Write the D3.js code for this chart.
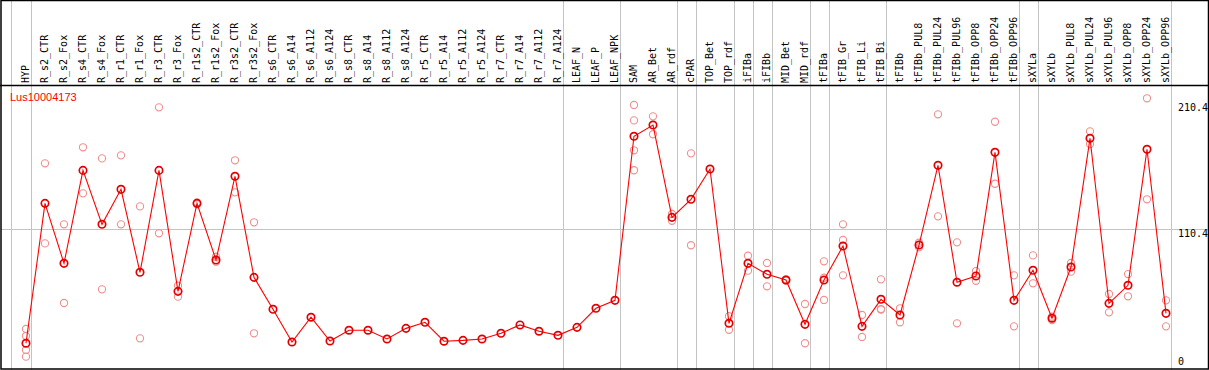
<!DOCTYPE html>
<html>
  <head>
    <meta charset="utf-8">
    <script src="https://cdn.jsdelivr.net/npm/d3@7/dist/d3.min.js"></script>
    <style>
      body { margin: 0; background: white; }
      svg { display: block; }
    </style>
  </head>
  <body>
    <script>
      const title = 'Lus10004173'

      const categories = [
        'HYP', 'R_s2_CTR', 'R_s2_Fox', 'R_s4_CTR', 'R_s4_Fox', 'R_r1_CTR', 'R_r1_Fox',
        'R_r3_CTR', 'R_r3_Fox', 'R_r1s2_CTR', 'R_r1s2_Fox', 'R_r3s2_CTR', 'R_r3s2_Fox',
        'R_s6_CTR', 'R_s6_A14', 'R_s6_A112', 'R_s6_A124', 'R_s8_CTR', 'R_s8_A14', 'R_s8_A112',
        'R_s8_A124', 'R_r5_CTR', 'R_r5_A14', 'R_r5_A112', 'R_r5_A124', 'R_r7_CTR', 'R_r7_A14',
        'R_r7_A112', 'R_r7_A124', 'LEAF_N', 'LEAF_P', 'LEAF_NPK', 'SAM', 'AR_Bet', 'AR_rdf',
        'cPAR', 'TOP_Bet', 'TOP_rdf', 'iFIBa', 'iFIBb', 'MID_Bet', 'MID_rdf', 'tFIBa',
        'tFIB_Gr', 'tFIB_Li', 'tFIB_Bi', 'tFIBb', 'tFIBb_PUL8', 'tFIBb_PUL24', 'tFIBb_PUL96',
        'tFIBb_OPP8', 'tFIBb_OPP24', 'tFIBb_OPP96', 'sXYLa', 'sXYLb', 'sXYLb_PUL8',
        'sXYLb_PUL24', 'sXYLb_PUL96', 'sXYLb_OPP8', 'sXYLb_OPP24', 'sXYLb_OPP96'
      ]

      // mean expression per sample
      const means = [
        19.9, 130.7, 83.2, 156.8, 114.1, 141.8, 76.1,
        156.8, 61.0, 130.7, 85.8, 152.1, 72.1,
        46.8, 20.9, 40.5, 21.7, 30.2, 30.2, 23.3,
        31.7, 36.5, 21.5, 22.2, 23.3, 27.8, 34.4,
        29.4, 26.2, 32.5, 47.6, 53.9, 183.8, 192.7, 119.6,
        133.9, 157.9, 35.7, 83.2, 74.5, 70.0, 34.9, 70.0,
        96.9, 33.3, 54.7, 42.3, 97.7, 160.8, 68.2,
        73.2, 171.1, 53.9, 77.7, 39.7, 80.3,
        182.2, 51.5, 65.8, 173.5, 43.6
      ]

      // individual replicates per sample (empty = none shown)
      const replicates = [
        [31.2, 25.7, 14.6, 9.3], [162.4, 99.0], [114.1, 51.8], [175.1, 138.6], [166.3, 62.6],
        [168.7, 114.1], [128.3, 23.8], [206.7, 107.0], [65.5, 56.8], [131.5, 129.9],
        [88.4, 84.5], [164.8, 139.4], [115.7, 27.8],
        [], [], [], [], [], [], [], [], [], [], [], [], [], [], [], [], [], [], [],
        [208.6, 196.4, 172.7, 156.9], [199.6, 185.4], [122.3, 116.9], [170.3, 97.5], [],
        [41.3, 30.6], [89.2, 77.4], [83.5, 65.0], [70.5, 69.5], [51.0, 19.9],
        [84.8, 71.8, 54.2], [114.1, 101.7, 73.7], [42.3, 24.9], [70.5, 47.0, 46.6],
        [47.6, 36.5], [99.5, 95.9], [201.2, 120.4], [99.8, 35.7], [77.1, 69.4],
        [195.3, 146.2], [73.7, 33.3], [89.5, 67.4], [40.9, 38.3], [83.5, 76.6],
        [187.7, 177.7], [58.9, 44.4], [74.7, 57.1], [213.9, 133.9], [53.9, 33.3]
      ]

      const yTicks = [0, 110.4, 210.4]
      const gridTicks = [110.4]
      const groupEnds = ['HYP', 'R_r7_A124', 'LEAF_NPK', 'AR_rdf', 'cPAR', 'TOP_rdf', 'iFIBa',
        'iFIBb', 'MID_rdf', 'tFIBa', 'tFIB_Bi', 'tFIBb_OPP96', 'sXYLa', 'sXYLb_OPP96']

      const W = 1209, H = 370
      const headerY = 85.5

      const svg = d3.select('body').append('svg')
        .attr('width', W).attr('height', H)

      const x = d3.scalePoint().domain(categories).range([26, 1166])
      const y = d3.scaleLinear().domain([0, 210.4]).range([368.4, 102.7])

      // gridline
      svg.selectAll('line.grid').data(gridTicks).join('line')
        .attr('x1', 1).attr('x2', 1208)
        .attr('y1', d => Math.round(y(d)) + 0.5).attr('y2', d => Math.round(y(d)) + 0.5)
        .attr('stroke', '#c4c4c4').attr('stroke-width', 1)

      // group separators
      const sepX = [x('HYP') - 15.5].concat(groupEnds.map(c => x(c) + 4.5))
      svg.selectAll('line.sep').data(sepX).join('line')
        .attr('x1', d => Math.round(d) + 0.5).attr('x2', d => Math.round(d) + 0.5)
        .attr('y1', 0).attr('y2', H)
        .attr('stroke', '#c4c4c4').attr('stroke-width', 1)

      // frame and header line
      svg.append('rect')
        .attr('x', 1).attr('y', 0.5).attr('width', 1207.5).attr('height', 368.5)
        .attr('fill', 'none').attr('stroke', 'black').attr('stroke-width', 1.5)
      svg.append('line')
        .attr('x1', 0).attr('x2', W).attr('y1', headerY).attr('y2', headerY)
        .attr('stroke', 'black').attr('stroke-width', 1.5)

      // header labels
      svg.selectAll('text.cat').data(categories).join('text')
        .attr('transform', d => `translate(${x(d) + 2.5},${headerY - 2.5}) rotate(-90)`)
        .attr('font-family', 'DejaVu Sans Mono')
        .attr('font-size', 10)
        .attr('fill', 'black')
        .text(d => d)

      // y labels on the right
      svg.selectAll('text.tick').data(yTicks).join('text')
        .attr('x', 1178)
        .attr('y', d => d === 0 ? y(d) - 3.5 : y(d) + 8)
        .attr('font-family', 'DejaVu Sans Mono')
        .attr('font-size', 10)
        .attr('fill', 'black')
        .text(d => d)

      // title
      svg.append('text')
        .attr('x', 10).attr('y', 101)
        .attr('font-family', 'Liberation Sans')
        .attr('font-size', 11)
        .attr('fill', 'red')
        .text(title)

      // replicate circles
      const reps = replicates.flatMap((vals, i) => vals.map(v => ({c: categories[i], v})))
      svg.selectAll('circle.rep').data(reps).join('circle')
        .attr('cx', d => x(d.c)).attr('cy', d => y(d.v)).attr('r', 3.6)
        .attr('fill', 'none').attr('stroke', '#f09090').attr('stroke-width', 1.1)

      // mean line
      const line = d3.line().x((d, i) => x(categories[i])).y(d => y(d))
      svg.append('path')
        .attr('d', line(means))
        .attr('fill', 'none').attr('stroke', 'red').attr('stroke-width', 1.1)

      svg.selectAll('circle.mean').data(means).join('circle')
        .attr('cx', (d, i) => x(categories[i])).attr('cy', d => y(d)).attr('r', 3.7)
        .attr('fill', 'none').attr('stroke', '#e00000').attr('stroke-width', 1.7)
    </script>
  </body>
</html>
